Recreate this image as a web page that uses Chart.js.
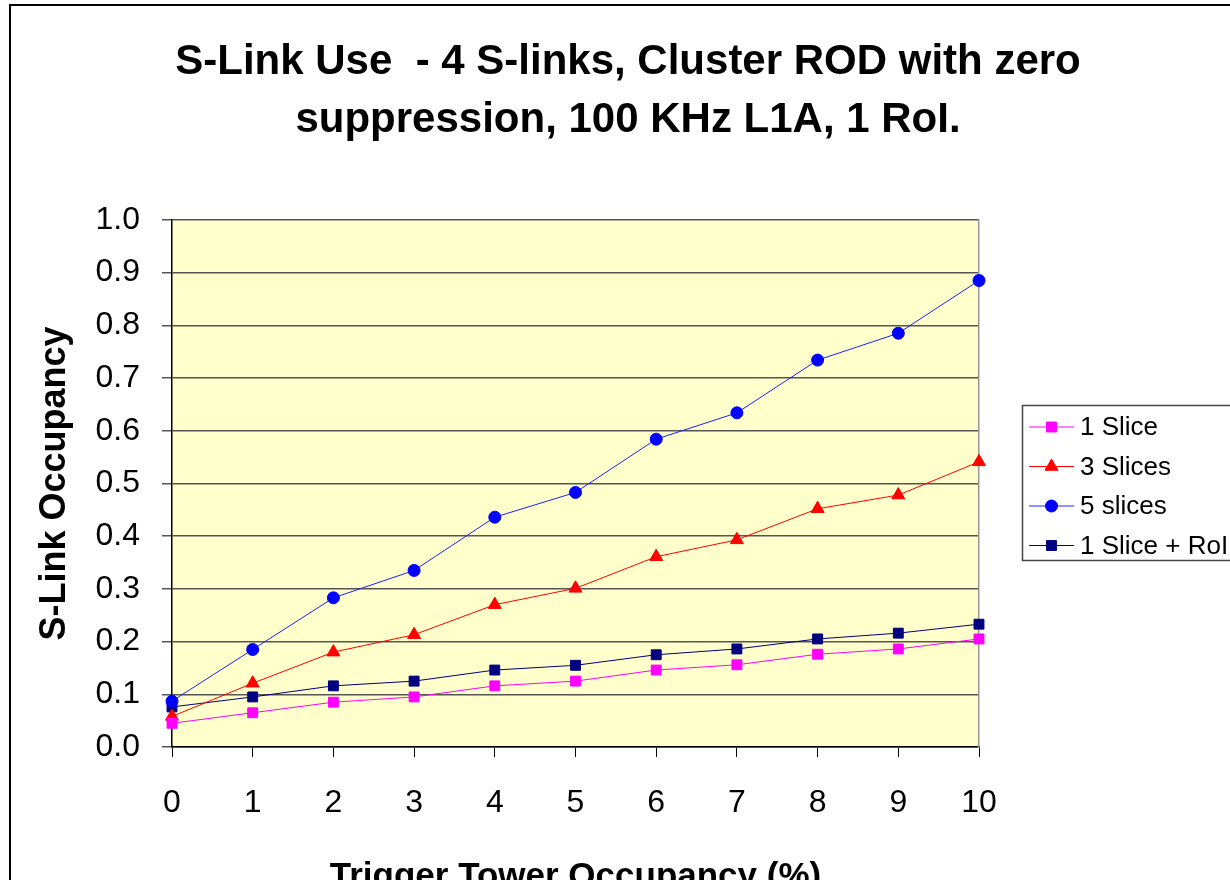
<!DOCTYPE html>
<html><head><meta charset="utf-8">
<script src="https://cdn.jsdelivr.net/npm/chart.js"></script>
<style>
html,body{margin:0;padding:0;overflow:hidden;background:#fff;width:1230px;height:880px}
#wrap{position:relative;width:1230px;height:900px}
canvas{display:block}
</style></head>
<body><div id="wrap"><canvas id="c" width="1230" height="900"></canvas></div>
<script>
const xLabels = ['0','1','2','3','4','5','6','7','8','9','10'];
const seriesNames = ['1 Slice','3 Slices','5 slices','1 Slice + RoI'];
const slice1    = [0.045,0.065,0.085,0.095,0.116,0.125,0.146,0.156,0.176,0.186,0.205];
const slice3    = [0.058,0.121,0.180,0.213,0.270,0.301,0.361,0.393,0.452,0.478,0.541];
const slice5    = [0.087,0.185,0.283,0.335,0.436,0.483,0.584,0.634,0.734,0.785,0.885];
const slice1RoI = [0.076,0.095,0.116,0.125,0.146,0.155,0.175,0.186,0.205,0.216,0.233];
const titleLines = ['S-Link Use  - 4 S-links, Cluster ROD with zero', 'suppression, 100 KHz L1A, 1 RoI.'];
const xTitle = 'Trigger Tower Occupancy (%)';
const yTitle = 'S-Link Occupancy';

const FONT = 'Arial, "Liberation Sans", sans-serif';

const bgPlugin = {
  id: 'bg',
  beforeDraw(chart) {
    const ctx = chart.ctx, a = chart.chartArea;
    ctx.save();
    ctx.fillStyle = '#ffffff';
    ctx.fillRect(0, 0, chart.width, chart.height);
    ctx.strokeStyle = '#000';
    ctx.lineWidth = 2;
    ctx.strokeRect(10, 5, 1400, 1000);
    ctx.fillStyle = '#FFFFCC';
    ctx.fillRect(a.left, a.top, a.right - a.left, a.bottom - a.top);
    ctx.restore();
  }
};

function marker(ctx, style, r, x, y) {
  if (Chart.helpers && Chart.helpers.drawPoint) {
    Chart.helpers.drawPoint(ctx, {pointStyle: style, radius: r, borderWidth: 1, rotation: 0}, x, y);
    return;
  }
  ctx.beginPath();
  ctx.arc(x, y, r, 0, Math.PI * 2);
  ctx.fill();
}

const legendPlugin = {
  id: 'boxLegend',
  afterDraw(chart) {
    const ctx = chart.ctx;
    ctx.save();
    ctx.strokeStyle = '#444';
    ctx.lineWidth = 1.5;
    ctx.strokeRect(1022.5, 405.5, 330, 155);
    chart.data.datasets.forEach((ds, i) => {
      const y = 427 + i * 39.5;
      ctx.strokeStyle = ds.borderColor;
      ctx.lineWidth = 1;
      ctx.beginPath();
      ctx.moveTo(1029, y); ctx.lineTo(1074, y);
      ctx.stroke();
      ctx.fillStyle = ds.pointBackgroundColor;
      ctx.strokeStyle = ds.pointBorderColor;
      marker(ctx, ds.pointStyle, ds.pointRadius, 1051.5, y);
      ctx.fillStyle = '#000';
      ctx.font = '26px ' + FONT;
      ctx.textAlign = 'left';
      ctx.textBaseline = 'middle';
      ctx.fillText(ds.label, 1080, y + 1);
    });
    ctx.restore();
  }
};

function mk(label, data, color, ptColor, style, r) {
  return {
    label, data,
    borderColor: color, borderWidth: 1,
    pointBackgroundColor: ptColor, pointBorderColor: ptColor,
    pointStyle: style, pointRadius: r, pointBorderWidth: 1,
    pointHoverRadius: r, tension: 0, fill: false
  };
}

new Chart(document.getElementById('c'), {
  type: 'line',
  data: {
    labels: xLabels,
    datasets: [
      mk(seriesNames[0], slice1, '#FF00FF', '#FF00FF', 'rect', 7),
      mk(seriesNames[1], slice3, '#FF0000', '#FF0000', 'triangle', 7.5),
      mk(seriesNames[2], slice5, '#2020FF', '#0000FF', 'circle', 6),
      mk(seriesNames[3], slice1RoI, '#000080', '#000080', 'rect', 7)
    ]
  },
  options: {
    responsive: false,
    animation: false,
    devicePixelRatio: 1,
    layout: { padding: { left: 26, right: 0, top: 0, bottom: 0 } },
    plugins: {
      legend: { display: false },
      tooltip: { enabled: false },
      title: {
        display: true,
        text: titleLines,
        color: '#000',
        font: { family: FONT, size: 42, weight: 'bold', lineHeight: 1.38 },
        padding: { top: 33, bottom: 71 }
      }
    },
    scales: {
      x: {
        type: 'category',
        offset: false,
        grid: { drawOnChartArea: false, drawTicks: true, tickLength: 10, color: '#000', lineWidth: 1 },
        border: { display: true, color: '#000', width: 1.5 },
        ticks: { color: '#000', font: { family: FONT, size: 32 }, padding: 27, maxRotation: 0, autoSkip: false },
        title: { display: true, text: xTitle, color: '#000', font: { family: FONT, size: 35, weight: 'bold', lineHeight: 1 }, padding: { top: 0, bottom: 5 } },
        afterFit(s) { s.height = 153; }
      },
      y: {
        type: 'linear',
        position: 'left',
        min: 0, max: 1,
        grid: { drawOnChartArea: true, drawTicks: true, tickLength: 10, color: '#555', lineWidth: 1.5 },
        border: { display: true, color: '#000', width: 1.5 },
        ticks: { stepSize: 0.1, color: '#000', font: { family: FONT, size: 32 }, padding: 22,
                 callback: v => Number(v).toFixed(1) },
        title: { display: true, text: yTitle, color: '#000', font: { family: FONT, size: 36, weight: 'bold', lineHeight: 1 }, padding: { top: 11, bottom: 0 } },
        afterFit(s) { s.width = 146; }
      },
      y2: {
        type: 'linear',
        position: 'right',
        min: 0, max: 1,
        grid: { drawOnChartArea: false, drawTicks: false },
        border: { display: true, color: '#999', width: 1.5 },
        ticks: { display: false },
        afterFit(s) { s.width = 251; }
      }
    }
  },
  plugins: [bgPlugin, legendPlugin]
});
</script>
</body></html>
